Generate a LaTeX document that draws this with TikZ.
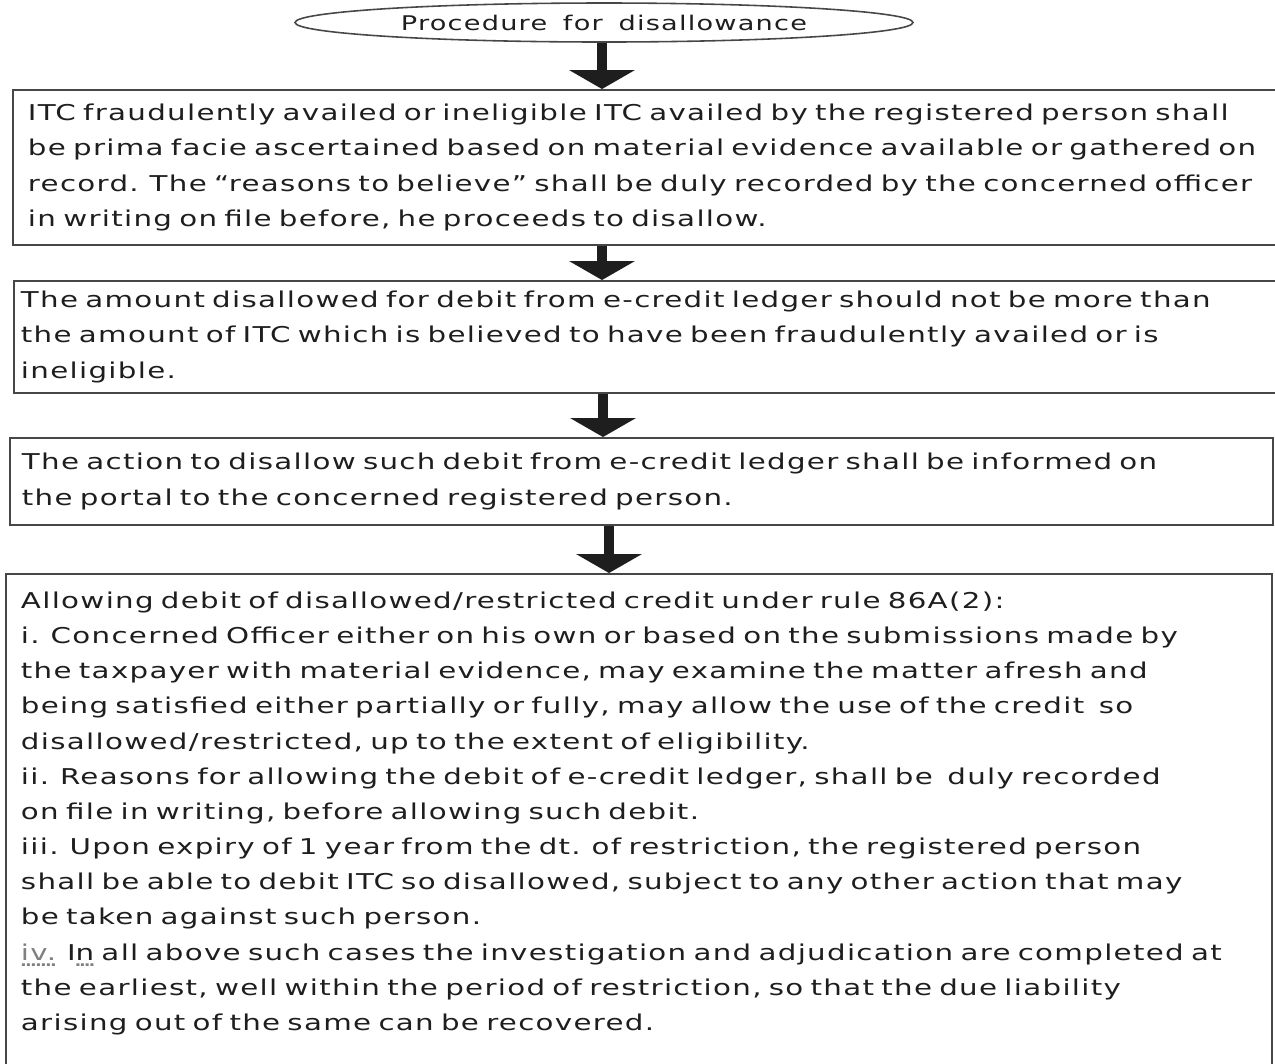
\documentclass[tikz,border=0pt]{standalone}
\usepackage{fontspec}
\usepackage{xcolor}
\usepackage{tikz}
\usetikzlibrary{arrows.meta,shapes.geometric}
\newfontfamily\handfont[FakeStretch=1.345,LetterSpace=6,WordSpace=1.6]{DejaVu Sans}
\definecolor{edgec}{HTML}{474747}
\definecolor{inkc}{HTML}{1E1E1E}
\newcommand\spellmark[1]{\leavevmode\setbox0\hbox{#1}\rlap{\raisebox{-0.3em}{\hbox to\wd0{\color{gray}\xleaders\hbox to 2.6pt{\hss.\hss}\hfill}}}#1}
\tikzset{
  flow/.style={-{Triangle[width=1.32cm,length=0.38cm,line width=0pt]},line width=0.2cm,inkc},
  box/.style={draw=edgec,line width=1.1pt,anchor=north west,align=left,inner ysep=0pt,text=inkc,
    font=\fontsize{12.4pt}{20pt}\selectfont\handfont},
  oval/.style={ellipse,draw=edgec,line width=0.9pt,inner sep=0pt,minimum width=12.36cm,minimum height=0.78cm,
    text=inkc,font=\fontsize{11.5pt}{20pt}\selectfont\handfont}
}

\begin{document}
\begin{tikzpicture}
\clip (0,0) rectangle (25.5,-21.26);
\node[oval] (title) at (12.08,-0.45) {\hbox to 0pt{\hss Procedure for disallowance\hss}};
\node[box,inner xsep=0.3cm,text width=24.86cm,minimum height=3.1cm] (itc) at (0.24,-1.78)
 {ITC fraudulently availed or ineligible ITC availed by the registered person shall\\
  be prima facie ascertained based on material evidence available or gathered on\\
  record. The “reasons to believe” shall be duly recorded by the concerned officer\\
  in writing on file before, he proceeds to disallow.};
\node[box,inner xsep=0.14cm,text width=25.16cm,minimum height=2.24cm] (amt) at (0.26,-5.6)
 {The amount disallowed for debit from e-credit ledger should not be more than\\
  the amount of ITC which is believed to have been fraudulently availed or is\\
  ineligible.};
\node[box,inner xsep=0.24cm,text width=24.78cm,minimum height=1.74cm] (act) at (0.18,-8.74)
 {The action to disallow such debit from e-credit ledger shall be informed on\\
  the portal to the concerned registered person.};
\node[box,inner xsep=0.3cm,inner ysep=0.36cm,text width=24.72cm,text depth=12cm] (allow) at (0.10,-11.46)
 {Allowing debit of disallowed/restricted credit under rule 86A(2):\\
  i. Concerned Officer either on his own or based on the submissions made by\\
  the taxpayer with material evidence, may examine the matter afresh and\\
  being satisfied either partially or fully, may allow the use of the credit\ \ so\\
  disallowed/restricted, up to the extent of eligibility.\\
  ii. Reasons for allowing the debit of e-credit ledger, shall be\ \ duly recorded\\
  on file in writing, before allowing such debit.\\
  iii. Upon expiry of 1 year from the dt. of restriction, the registered person\\
  shall be able to debit ITC so disallowed, subject to any other action that may\\
  be taken against such person.\\
  \spellmark{\textcolor{gray}{iv.}} I\spellmark{n} all above such cases the investigation and adjudication are completed at\\
  the earliest, well within the period of restriction, so that the due liability\\
  arising out of the same can be recovered.};
% arrows between the steps
\foreach \a/\b/\x in {title/itc/12.04,itc/amt/12.04,amt/act/12.06,act/allow/12.18}
 \draw[flow] (\a.south -| \x,0) -- (\b.north -| \x,0);
\end{tikzpicture}
\end{document}
